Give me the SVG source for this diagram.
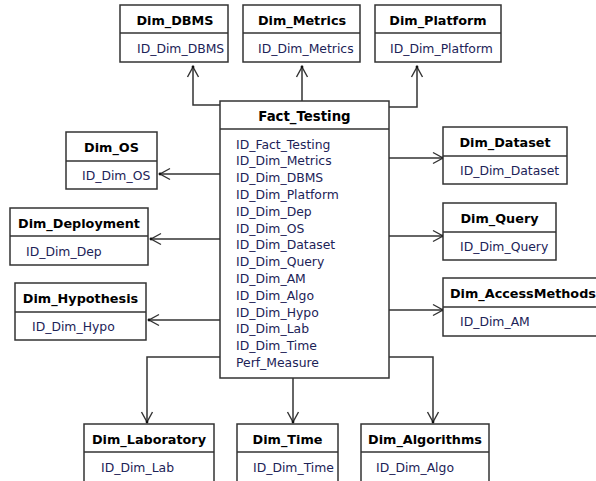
<svg xmlns="http://www.w3.org/2000/svg" width="596" height="481" viewBox="0 0 596 481">
<defs>
<style>
.box{fill:#fff;stroke:#333;stroke-width:1.5}
.sep{stroke:#333;stroke-width:1.3}
.ttl{font-family:"DejaVu Sans",Verdana,sans-serif;font-weight:bold;font-size:12.8px;fill:#000;text-anchor:middle}
.row{font-family:"DejaVu Sans",Verdana,sans-serif;font-size:12.4px;fill:#1c2357}
.con{fill:none;stroke:#333;stroke-width:1.5;marker-end:url(#arr)}
</style>
<marker id="arr" markerUnits="userSpaceOnUse" markerWidth="14" markerHeight="14" viewBox="-12 -7 14 14" refX="0" refY="0" orient="auto" overflow="visible">
<path d="M-10,-5.5 L0,0 L-10,5.5" fill="none" stroke="#333" stroke-width="1.4"/>
<circle cx="0" cy="0" r="1.4" fill="#111"/>
</marker>
</defs>
<rect width="596" height="481" fill="#fff"/>

<g id="connectors">
<polyline class="con" points="220,105 193,105 193,67"/>
<polyline class="con" points="302,101 302,67"/>
<polyline class="con" points="389,107 417,107 417,67"/>
<polyline class="con" points="220,174 160,174"/>
<polyline class="con" points="220,239 151,239"/>
<polyline class="con" points="220,320 149,320"/>
<polyline class="con" points="389,158 443,158"/>
<polyline class="con" points="389,236 443,236"/>
<polyline class="con" points="389,310 443,310"/>
<polyline class="con" points="220,357 147,357 147,422"/>
<polyline class="con" points="293,378 293,422"/>
<polyline class="con" points="389,357 433,357 433,422"/>
</g>

<g id="Fact_Testing">
<rect class="box" x="220" y="101" width="169" height="277"/>
<line class="sep" x1="220" y1="129" x2="389" y2="129"/>
<text class="ttl" x="304.5" y="121" style="font-size:13.3px">Fact_Testing</text>
<text class="row" x="236" y="148.5">ID_Fact_Testing</text>
<text class="row" x="236" y="165.3">ID_Dim_Metrics</text>
<text class="row" x="236" y="182.1">ID_Dim_DBMS</text>
<text class="row" x="236" y="198.9">ID_Dim_Platform</text>
<text class="row" x="236" y="215.7">ID_Dim_Dep</text>
<text class="row" x="236" y="232.5">ID_Dim_OS</text>
<text class="row" x="236" y="249.3">ID_Dim_Dataset</text>
<text class="row" x="236" y="266.1">ID_Dim_Query</text>
<text class="row" x="236" y="282.9">ID_Dim_AM</text>
<text class="row" x="236" y="299.7">ID_Dim_Algo</text>
<text class="row" x="236" y="316.5">ID_Dim_Hypo</text>
<text class="row" x="236" y="333.3">ID_Dim_Lab</text>
<text class="row" x="236" y="350.1">ID_Dim_Time</text>
<text class="row" x="236" y="366.9">Perf_Measure</text>
</g>

<g id="Dim_DBMS">
<rect class="box" x="120" y="5" width="108" height="57"/>
<line class="sep" x1="120" y1="33" x2="228" y2="33"/>
<text class="ttl" x="175" y="25">Dim_DBMS</text>
<text class="row" x="137" y="53">ID_Dim_DBMS</text>
</g>

<g id="Dim_Metrics">
<rect class="box" x="243" y="5" width="117" height="57"/>
<line class="sep" x1="243" y1="33" x2="360" y2="33"/>
<text class="ttl" x="302" y="25">Dim_Metrics</text>
<text class="row" x="258" y="53">ID_Dim_Metrics</text>
</g>

<g id="Dim_Platform">
<rect class="box" x="375" y="5" width="126" height="57"/>
<line class="sep" x1="375" y1="33" x2="501" y2="33"/>
<text class="ttl" x="438" y="25">Dim_Platform</text>
<text class="row" x="390" y="53">ID_Dim_Platform</text>
</g>

<g id="Dim_OS">
<rect class="box" x="66" y="132" width="91" height="57"/>
<line class="sep" x1="66" y1="161" x2="157" y2="161"/>
<text class="ttl" x="111.5" y="152">Dim_OS</text>
<text class="row" x="82" y="180">ID_Dim_OS</text>
</g>

<g id="Dim_Deployment">
<rect class="box" x="10" y="208" width="138" height="57"/>
<line class="sep" x1="10" y1="236" x2="148" y2="236"/>
<text class="ttl" x="79" y="228">Dim_Deployment</text>
<text class="row" x="26" y="256">ID_Dim_Dep</text>
</g>

<g id="Dim_Hypothesis">
<rect class="box" x="15" y="283" width="131" height="57"/>
<line class="sep" x1="15" y1="312" x2="146" y2="312"/>
<text class="ttl" x="80.5" y="303">Dim_Hypothesis</text>
<text class="row" x="32" y="331">ID_Dim_Hypo</text>
</g>

<g id="Dim_Dataset">
<rect class="box" x="443" y="127" width="124" height="57"/>
<line class="sep" x1="443" y1="156" x2="567" y2="156"/>
<text class="ttl" x="505" y="147">Dim_Dataset</text>
<text class="row" x="460" y="175">ID_Dim_Dataset</text>
</g>

<g id="Dim_Query">
<rect class="box" x="443" y="203" width="113" height="57"/>
<line class="sep" x1="443" y1="232" x2="556" y2="232"/>
<text class="ttl" x="499.5" y="223">Dim_Query</text>
<text class="row" x="460" y="251">ID_Dim_Query</text>
</g>

<g id="Dim_AccessMethods">
<rect class="box" x="443" y="278" width="165" height="58"/>
<line class="sep" x1="443" y1="307" x2="608" y2="307"/>
<text class="ttl" x="450" y="298" style="text-anchor:start">Dim_AccessMethods</text>
<text class="row" x="460" y="326">ID_Dim_AM</text>
</g>

<g id="Dim_Laboratory">
<rect class="box" x="84" y="424" width="130" height="70"/>
<line class="sep" x1="84" y1="452" x2="214" y2="452"/>
<text class="ttl" x="149" y="444">Dim_Laboratory</text>
<text class="row" x="101" y="472">ID_Dim_Lab</text>
</g>

<g id="Dim_Time">
<rect class="box" x="237" y="424" width="101" height="70"/>
<line class="sep" x1="237" y1="452" x2="338" y2="452"/>
<text class="ttl" x="287.5" y="444">Dim_Time</text>
<text class="row" x="253" y="472">ID_Dim_Time</text>
</g>

<g id="Dim_Algorithms">
<rect class="box" x="361" y="424" width="128" height="70"/>
<line class="sep" x1="361" y1="452" x2="489" y2="452"/>
<text class="ttl" x="425" y="444">Dim_Algorithms</text>
<text class="row" x="376" y="472">ID_Dim_Algo</text>
</g>
</svg>
